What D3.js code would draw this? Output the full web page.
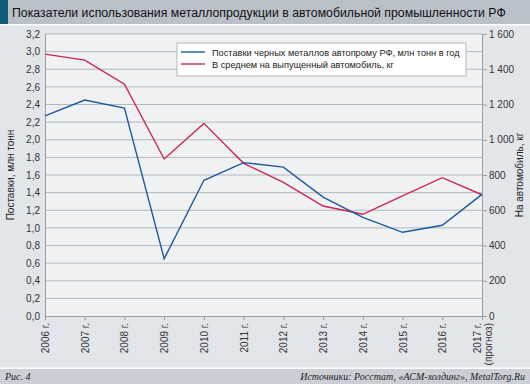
<!DOCTYPE html>
<html>
<head>
<meta charset="utf-8">
<script src="https://cdn.jsdelivr.net/npm/d3@7"></script>
<style>
  body { margin: 0; background: #fff; }
  svg { display: block; font-family: "Liberation Sans", Arial, sans-serif; }
  .tick text { fill: #333; font-size: 10px; }
  .footer { font-family: "Liberation Serif", "DejaVu Serif", serif; font-style: italic; font-size: 10px; fill: #222; }
</style>
</head>
<body>
<svg id="chart" width="530" height="384"></svg>
<script>
var years = ["2006 г.", "2007 г.", "2008 г.", "2009 г.", "2010 г.", "2011 г.", "2012 г.",
  "2013 г.", "2014 г.", "2015 г.", "2016 г.", "2017 г."];
var supply = [2.27, 2.45, 2.36, 0.65, 1.54, 1.74, 1.69, 1.35, 1.12, 0.95, 1.03, 1.38];
var perCar = [1486, 1452, 1315, 891, 1093, 866, 758, 624, 577, 681, 785, 688];
var leftTicks = d3.range(0, 3.21, 0.2);
var rightTicks = [0, 200, 400, 600, 800, 1000, 1200, 1400, 1600];
var seriesNames = ["Поставки черных металлов автопрому РФ, млн тонн в год",
  "В среднем на выпущенный автомобиль, кг"];
var colors = ["#1c5a9c", "#cc2459"];

var svg = d3.select("#chart");
var W = 530, H = 384;
var m = {left: 45, right: 482, top: 34, bottom: 316};

// backgrounds
svg.append("rect").attr("width", W).attr("height", H).attr("fill", "#e2e5e9");
svg.append("rect").attr("width", W).attr("height", 24).attr("fill", "#b9c0c8");
svg.append("rect").attr("width", 8).attr("height", 24).attr("fill", "#0d5a78");
svg.append("rect").attr("y", 24).attr("width", W).attr("height", 1.5).attr("fill", "#fff");
svg.append("text").attr("x", 12).attr("y", 16.5)
  .attr("font-size", "12.3px").attr("fill", "#111")
  .text("Показатели использования металлопродукции в автомобильной промышленности РФ");
svg.append("rect").attr("y", 367.5).attr("width", W).attr("height", 1.5).attr("fill", "#fff");
svg.append("rect").attr("y", 369).attr("width", W).attr("height", 15).attr("fill", "#cbd0d7");
svg.append("text").attr("class", "footer").attr("x", 5).attr("y", 380).text("Рис. 4");
svg.append("text").attr("class", "footer").attr("x", 525).attr("y", 380)
  .attr("text-anchor", "end").text("Источники: Росстат, «АСМ-холдинг», MetalTorg.Ru");

var x = d3.scalePoint().domain(years).range([m.left, m.right]);
var yL = d3.scaleLinear().domain([0, 3.2]).range([m.bottom, m.top]);
var yR = d3.scaleLinear().domain([0, 1600]).range([m.bottom, m.top]);

svg.append("rect").attr("x", m.left).attr("y", m.top)
  .attr("width", m.right - m.left).attr("height", m.bottom - m.top).attr("fill", "#eff1f3");

// grid
svg.append("g").selectAll("line").data(leftTicks.slice(1)).enter().append("line")
  .attr("x1", m.left).attr("x2", m.right)
  .attr("y1", function(d) { return yL(d); }).attr("y2", function(d) { return yL(d); })
  .attr("stroke", "#b4b8bd").attr("stroke-width", 1);

// left axis
var gl = svg.append("g").attr("transform", "translate(" + m.left + ",0)")
  .call(d3.axisLeft(yL).tickValues(leftTicks).tickSize(0).tickPadding(5)
    .tickFormat(function(d) { return d3.format(".1f")(d).replace(".", ","); }));
gl.select(".domain").attr("stroke", "#9a9ea4");

// right axis
var gr = svg.append("g").attr("transform", "translate(" + m.right + ",0)")
  .call(d3.axisRight(yR).tickValues(rightTicks).tickSize(5).tickPadding(2)
    .tickFormat(function(d) { return d3.format(",")(d).replace(",", "\u00a0"); }));
gr.select(".domain").attr("stroke", "#9a9ea4");
gr.selectAll(".tick line").attr("stroke", "#9a9ea4");

// bottom axis
var gb = svg.append("g").attr("transform", "translate(0," + m.bottom + ")")
  .call(d3.axisBottom(x).tickSize(4).tickSizeOuter(0).tickPadding(3));
gb.select(".domain").attr("stroke", "#9a9ea4");
gb.selectAll(".tick line").attr("stroke", "#9a9ea4");
gb.selectAll(".tick text")
  .attr("transform", "rotate(-90)")
  .attr("text-anchor", "end")
  .attr("x", -7).attr("y", 0).attr("dy", "0.35em");
gb.selectAll(".tick").filter(function(d) { return d === "2017 г."; }).select("text")
  .attr("dy", "-0.15em")
  .append("tspan").attr("x", -7).attr("dy", "1.1em").text("(прогноз)");

// axis titles
svg.append("text").attr("transform", "translate(14,175) rotate(-90)")
  .attr("text-anchor", "middle").attr("font-size", "10px").attr("fill", "#222")
  .text("Поставки, млн тонн");
svg.append("text").attr("transform", "translate(523,175) rotate(-90)")
  .attr("text-anchor", "middle").attr("font-size", "10px").attr("fill", "#222")
  .text("На автомобиль, кг");

// lines
var lineL = d3.line().x(function(d, i) { return x(years[i]); }).y(function(d) { return yL(d); });
var lineR = d3.line().x(function(d, i) { return x(years[i]); }).y(function(d) { return yR(d); });
svg.append("path").datum(perCar).attr("d", lineR).attr("fill", "none")
  .attr("stroke", colors[1]).attr("stroke-width", 1.4);
svg.append("path").datum(supply).attr("d", lineL).attr("fill", "none")
  .attr("stroke", colors[0]).attr("stroke-width", 1.4);

// legend
var lg = svg.append("g").attr("transform", "translate(177,43)");
lg.append("rect").attr("width", 289).attr("height", 33)
  .attr("fill", "#fff").attr("stroke", "#b4b8bd");
seriesNames.forEach(function(name, i) {
  lg.append("line").attr("x1", 4).attr("x2", 28).attr("y1", 9 + i * 12).attr("y2", 9 + i * 12)
    .attr("stroke", colors[i]).attr("stroke-width", 1.4);
  lg.append("text").attr("x", 35).attr("y", 12.5 + i * 12)
    .attr("font-size", "9.2px").attr("fill", "#222").text(name);
});
</script>
</body>
</html>
